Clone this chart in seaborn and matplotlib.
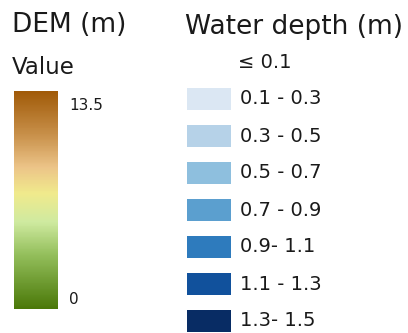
import numpy as np
import pandas as pd
import matplotlib
matplotlib.use("Agg")
import matplotlib.pyplot as plt
from matplotlib.colors import LinearSegmentedColormap
import seaborn as sns

# DEM colour ramp (elevation, metres)
dem_min = 0
dem_max = 13.5
dem_stops = [0.0, 0.25, 0.40, 0.53, 0.65, 0.80, 1.0]
dem_colors = ["#4a7808", "#94bf5c", "#cfeaa0", "#f0ea8c", "#ecc488", "#c8904a", "#a05a08"]

# Water depth classes
depth_labels = ["\u2264 0.1", "0.1 - 0.3", "0.3 - 0.5", "0.5 - 0.7",
                "0.7 - 0.9", "0.9- 1.1", "1.1 - 1.3", "1.3- 1.5"]
depth_colors = ["#ffffff", "#dbe7f3", "#b6d2e8", "#8ebfde",
                "#5b9fcf", "#2e7bbd", "#11519c", "#082c64"]

sns.set_theme(style="white")
plt.rcParams["font.family"] = ["DejaVu Sans"]

W, H = 408, 333
fig = plt.figure(figsize=(W / 100, H / 100), dpi=100)


def px_axes(x0, y0, x1, y1):
    return fig.add_axes([x0 / W, 1 - y1 / H, (x1 - x0) / W, (y1 - y0) / H])


def px_text(x, y, s, size, **kw):
    fig.text(x / W, 1 - y / H, s, fontsize=size, color="#1a1a1a", **kw)


# --- DEM legend ---
px_text(12, 25, "DEM (m)", 19, va="center")
px_text(12, 68, "Value", 16.5, va="center")

cmap = LinearSegmentedColormap.from_list("dem", list(zip(dem_stops, dem_colors)))
ramp = pd.DataFrame(np.linspace(dem_max, dem_min, 256)[:, None])
ax_dem = px_axes(14, 91, 58, 309)
sns.heatmap(ramp, ax=ax_dem, cmap=cmap, vmin=dem_min, vmax=dem_max,
            cbar=False, xticklabels=False, yticklabels=False)
ax_dem.set_axis_off()
px_text(69, 105, f"{dem_max}", 11, va="center")
px_text(69, 300, f"{dem_min}", 11, va="center")

# --- Water depth legend ---
px_text(185, 27, "Water depth (m)", 19, va="center")

row_h = 37
ax_w = px_axes(187, 62 - row_h / 2, 231, 62 + row_h * 7.5)
df = pd.DataFrame({"label": depth_labels, "v": [1] * len(depth_labels)})
sns.barplot(data=df, y="label", x="v", hue="label", palette=depth_colors,
            saturation=1, legend=False, width=0.6, ax=ax_w, orient="h",
            edgecolor="none")
ax_w.set_xlim(0, 1)
ax_w.set_ylim(len(depth_labels) - 0.5, -0.5)
ax_w.set_axis_off()
for i, lab in enumerate(depth_labels):
    xoff = 1.15 if i == 0 else 1.2
    ax_w.text(xoff, i, lab, fontsize=14, va="center", ha="left",
              color="#1a1a1a", clip_on=False)

fig.savefig("out.png", dpi=100, facecolor="white")
